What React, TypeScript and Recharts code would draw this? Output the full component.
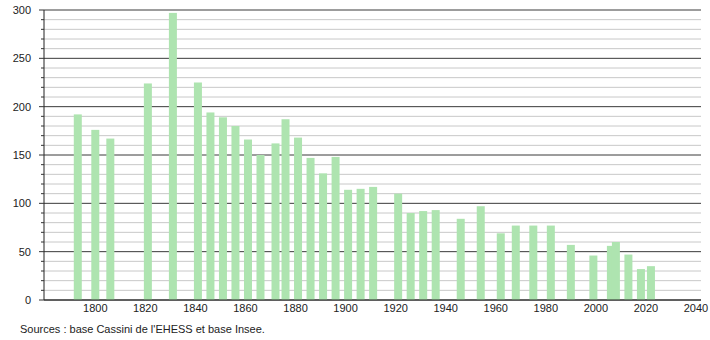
import { Bar, CartesianGrid, ComposedChart, XAxis, YAxis } from "recharts";

const years = [
  1793, 1800, 1806, 1821, 1831, 1841, 1846, 1851, 1856, 1861, 1866, 1872, 1876,
  1881, 1886, 1891, 1896, 1901, 1906, 1911, 1921, 1926, 1931, 1936, 1946, 1954,
  1962, 1968, 1975, 1982, 1990, 1999, 2006, 2008, 2013, 2018, 2022,
];
const population = [
  192, 176, 167, 224, 297, 225, 194, 189, 180, 166, 150, 162, 187,
  168, 147, 131, 148, 114, 115, 117, 110, 90, 92, 93, 84, 97,
  69, 77, 77, 77, 57, 46, 56, 60, 47, 32, 35,
];

const xTicks = [1800, 1820, 1840, 1860, 1880, 1900, 1920, 1940, 1960, 1980, 2000, 2020, 2040];
const yTicks = [
  0, 10, 20, 30, 40, 50, 60, 70, 80, 90, 100, 110, 120, 130, 140, 150, 160,
  170, 180, 190, 200, 210, 220, 230, 240, 250, 260, 270, 280, 290, 300,
];
const majorTicks = [0, 50, 100, 150, 200, 250, 300];
const minorTicks = yTicks.filter((v) => !majorTicks.includes(v));

const data = years.map((year, i) => ({ year, pop: population[i] }));

const FONT = '"Liberation Sans", Arial, Helvetica, sans-serif';
const BAR_W = 8;

function YTick({ x, y, payload }: { x?: number; y?: number; payload?: { value: number } }) {
  const v = payload?.value ?? 0;
  const major = v % 50 === 0;
  return (
    <g>
      <line x1={x! - (major ? 5 : 3)} x2={x} y1={y} y2={y} stroke="#333" strokeWidth={1} />
      {major && (
        <text x={x! - 13} y={y! + 4} textAnchor="end" fontSize={11} fill="#222" fontFamily={FONT}>
          {v}
        </text>
      )}
    </g>
  );
}

// fixed-width bar centred on its year (numeric axis squeezes the band otherwise)
function WideBar(props: any) {
  const { x, y, width, height, fill } = props;
  if (height == null || height <= 0) return null;
  const cx = x + width / 2;
  return <rect x={cx - BAR_W / 2} y={y} width={BAR_W} height={height} fill={fill} fillOpacity={1} />;
}

export default function App() {
  return (
    <div style={{ position: "absolute", left: 0, top: 0, width: 710, height: 340, background: "#fff", fontFamily: FONT }}>
      <ComposedChart width={710} height={320} data={data} margin={{ top: 10, right: 9, left: 0, bottom: 0 }}>
        <XAxis
          dataKey="year"
          type="number"
          domain={[1779.5, 2042]}
          ticks={xTicks}
          allowDataOverflow
          tickLine={false}
          tickSize={3}
          tickMargin={1}
          axisLine={{ stroke: "#222" }}
          tick={{ fontSize: 11, fill: "#222", fontFamily: FONT }}
          height={20}
        />
        <YAxis
          domain={[0, 300]}
          ticks={yTicks}
          interval={0}
          width={44}
          tickSize={0}
          tickMargin={0}
          tickLine={false}
          axisLine={{ stroke: "#222" }}
          tick={<YTick />}
        />
        <Bar dataKey="pop" fill="#aee4b0" shape={<WideBar />} isAnimationActive={false} />
        <CartesianGrid vertical={false} horizontalValues={minorTicks} stroke="#c8c8c8" strokeWidth={1} />
        <CartesianGrid vertical={false} horizontalValues={majorTicks} stroke="#3a3a3a" strokeWidth={1} />
      </ComposedChart>
      <div style={{ position: "absolute", left: 20, top: 323, fontSize: 11, color: "#222" }}>
        Sources : base Cassini de l'EHESS et base Insee.
      </div>
    </div>
  );
}
